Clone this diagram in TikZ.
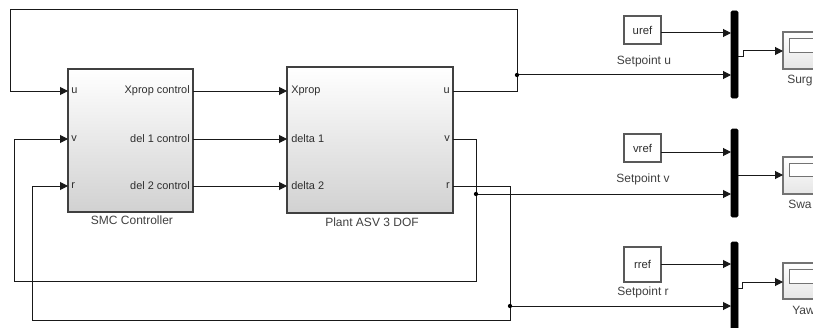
\documentclass[tikz,border=0pt]{standalone}
\usepackage{fontspec}
\setmainfont{Liberation Sans}
\usetikzlibrary{arrows.meta,fit,shadows}
\begin{document}
\begin{tikzpicture}[x=0.75pt,y=-0.75pt,
  wire/.style={draw=black!90,line width=0.75pt},
  arr/.style={wire,-{Triangle[length=6pt,width=6pt]}},
  block/.style={draw=black!75,line width=1pt,top color=white,bottom color=black!18,inner sep=0pt,
    drop shadow={shadow xshift=0.9pt,shadow yshift=-0.9pt,fill=black!45,opacity=0.5}},
  cblock/.style={draw=black!65,line width=0.8pt,fill=white,inner sep=0pt,
    drop shadow={shadow xshift=0.8pt,shadow yshift=-0.8pt,fill=black!40,opacity=0.5}},
  muxbar/.style={draw=black,fill=black,inner sep=0pt,rounded corners=1pt},
  scope/.style={draw=black!55,line width=0.8pt,top color=white,bottom color=black!10,inner sep=0pt},
  screen/.style={draw=black!55,line width=0.7pt,fill=white,inner sep=0pt},
  plab/.style={font=\fontsize{8.2}{9}\selectfont,text=black!82,inner sep=0pt},
  blab/.style={font=\fontsize{9}{10}\selectfont,text=black!75,inner sep=0pt},
  dot/.style={fill=black}
]
\path[use as bounding box] (0,0) rectangle (813,328);
\clip (0,0) rectangle (813,328);

% blocks
\node[block, fit={(68,69) (193,212)}] (smc) {};
\node[block, fit={(287,67) (453,213)}] (plant) {};
\node[blab] (smclbl) at (132,220) {SMC Controller};
\node[blab] (plantlbl) at (372,222) {Plant ASV 3 DOF};

% port labels
\node[plab, anchor=west] (smcpu) at (71,91) {u};
\node[plab, anchor=west] (smcpv) at (71,139) {v};
\node[plab, anchor=west] (smcpr) at (71,186) {r};
\node[plab, anchor=east] (smcpo1) at (190,91) {Xprop control};
\node[plab, anchor=east] (smcpo2) at (190,139) {del 1 control};
\node[plab, anchor=east] (smcpo3) at (190,186) {del 2 control};
\node[plab, anchor=west] (plpi1) at (291,91) {Xprop};
\node[plab, anchor=west] (plpi2) at (291,139) {delta 1};
\node[plab, anchor=west] (plpi3) at (291,186) {delta 2};
\node[plab, anchor=east] (plpu) at (450,91) {u};
\node[plab, anchor=east] (plpv) at (450,139) {v};
\node[plab, anchor=east] (plpr) at (450,186) {r};

% setpoints
\node[cblock, fit={(624,16) (661,44)}] (cu) {};
\node[cblock, fit={(624,134) (661,162)}] (cv) {};
\node[cblock, fit={(624,247) (661,282)}] (cr) {};
\node[plab, font=\fontsize{8.5}{9}\selectfont] (cutxt) at (642.5,30) {uref};
\node[plab, font=\fontsize{8.5}{9}\selectfont] (cvtxt) at (642.5,148) {vref};
\node[plab, font=\fontsize{8.5}{9}\selectfont] (crtxt) at (642.5,264) {rref};
\node[blab] (culbl) at (644,61) {Setpoint u};
\node[blab] (cvlbl) at (643,179) {Setpoint v};
\node[blab] (crlbl) at (643,292) {Setpoint r};

% muxes
\node[muxbar, fit={(731,11) (738,98)}] (mux1) {};
\node[muxbar, fit={(731,129) (738,217)}] (mux2) {};
\node[muxbar, fit={(731,242) (738,345)}] (mux3) {};

% scopes
\node[scope, fit={(783,32) (850,69)}] (sc1) {};
\node[screen, fit={(789,38) (850,52)}] (scr1) {};
\node[scope, fit={(783,157) (850,194)}] (sc2) {};
\node[screen, fit={(789,163) (850,176)}] (scr2) {};
\node[scope, fit={(783,263) (850,299)}] (sc3) {};
\node[screen, fit={(789,269) (850,283)}] (scr3) {};
\node[blab, anchor=west] (sc1lbl) at (787,81) {Surg};
\node[blab, anchor=west] (sc2lbl) at (788,204) {Swa};
\node[blab, anchor=west] (sc3lbl) at (792,310) {Yaw};

% port coordinates
\coordinate (smc-u) at (68,91);
\coordinate (smc-v) at (68,139);
\coordinate (smc-r) at (68,186);
\coordinate (smc-o1) at (193,91);
\coordinate (smc-o2) at (193,139);
\coordinate (smc-o3) at (193,186);
\coordinate (pl-i1) at (287,91);
\coordinate (pl-i2) at (287,139);
\coordinate (pl-i3) at (287,186);
\coordinate (pl-u) at (453,91);
\coordinate (pl-v) at (453,139);
\coordinate (pl-r) at (453,186);
\coordinate (ju) at (517,75);
\coordinate (jv) at (476,194);
\coordinate (jr) at (510,306);
\coordinate (tl) at (10,10);
\coordinate (bl1) at (14,281);
\coordinate (bl2) at (32,320);
\coordinate (m1a) at (731,33);
\coordinate (m1b) at (731,75);
\coordinate (m2a) at (731,152);
\coordinate (m2b) at (731,194);
\coordinate (m3a) at (731,264);
\coordinate (m3b) at (731,306);
\coordinate (m1o) at (738,57);
\coordinate (m2o) at (738,175);
\coordinate (m3o) at (738,288);
\coordinate (s1i) at (783,51);
\coordinate (s2i) at (783,175);
\coordinate (s3i) at (783,282);
\coordinate (c1o) at (661,33);
\coordinate (c2o) at (661,152);
\coordinate (c3o) at (661,264);

% controller to plant
\draw[arr] (smc-o1) -- (pl-i1);
\draw[arr] (smc-o2) -- (pl-i2);
\draw[arr] (smc-o3) -- (pl-i3);

% feedback u
\draw[wire] (pl-u) -| (ju);
\draw[arr] (ju) -- (m1b);
\draw[arr] (ju) |- (tl) |- (smc-u);
% feedback v
\draw[wire] (pl-v) -| (jv);
\draw[arr] (jv) -- (m2b);
\draw[arr] (jv) |- (bl1) |- (smc-v);
% feedback r
\draw[wire] (pl-r) -| (jr);
\draw[arr] (jr) -- (m3b);
\draw[arr] (jr) |- (bl2) |- (smc-r);

\fill[dot] (ju) circle[radius=1.6pt];
\fill[dot] (jv) circle[radius=1.6pt];
\fill[dot] (jr) circle[radius=1.6pt];

% setpoints to mux
\draw[arr] (c1o) -- (m1a);
\draw[arr] (c2o) -- (m2a);
\draw[arr] (c3o) -- (m3a);

% mux to scopes
\draw[arr] (m1o) -- ++(5,0) |- (s1i);
\draw[arr] (m2o) -- (s2i);
\draw[arr] (m3o) -- ++(4,0) |- (s3i);
\end{tikzpicture}
\end{document}
